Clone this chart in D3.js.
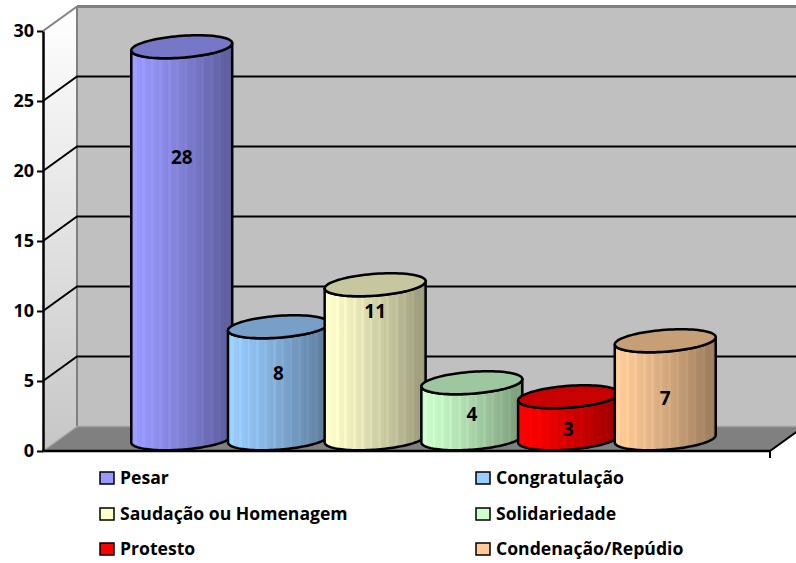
<!DOCTYPE html>
<html>
<head>
<meta charset="utf-8">
<script src="https://cdn.jsdelivr.net/npm/d3@7"></script>
<style>
  body { margin: 0; background: #fff; }
  svg { display: block; }
  text { font-family: "Open Sans", "Liberation Sans", sans-serif; font-weight: bold; fill: #000; }
</style>
</head>
<body>
<svg id="chart" width="796" height="563"></svg>
<script>
// Series of the single category, their counts and fill colours
const series = ["Pesar", "Congratulação", "Saudação ou Homenagem", "Solidariedade", "Protesto", "Condenação/Repúdio"];
const values = [28, 8, 11, 4, 3, 7];
const colors = ["#9999FF", "#99CCFF", "#FFFFCC", "#CCFFCC", "#FF0000", "#FFCC99"];
const yTicks = [0, 5, 10, 15, 20, 25, 30];
// fraction of each column's height at which its value label is placed
const labelAt = [0.72, 0.585, 0.83, 0.44, 0.23, 0.42];

const svg = d3.select("#chart");
const defs = svg.append("defs");

// Plot frame (front plane) and the oblique depth offset of the 3D box
const frameL = 43, frameR = 770, frameB = 451, frameT = 31;
const DX = 34, DY = 24.5;

const y = d3.scaleLinear().domain([0, 30]).range([frameB, frameT]);
const x = d3.scaleBand().domain(series).range([frameL, frameR])
  .paddingInner(0).paddingOuter(0.759);

// ---- walls and floor ----
const wallGrad = defs.append("linearGradient").attr("id", "sideWall")
  .attr("x1", 0).attr("y1", 0).attr("x2", 0).attr("y2", 1);
wallGrad.append("stop").attr("offset", 0).attr("stop-color", "#ffffff");
wallGrad.append("stop").attr("offset", 1).attr("stop-color", "#c6c6c6");

const line = d3.line();

// back wall
svg.append("rect")
  .attr("x", frameL + DX).attr("y", y(30) - DY)
  .attr("width", 796 - frameL - DX + 10).attr("height", y(0) - y(30))
  .attr("fill", "#c0c0c0");

// side wall
svg.append("path")
  .attr("d", line([[frameL, y(30)], [frameL + DX, y(30) - DY], [frameL + DX, y(0) - DY], [frameL, y(0)]]) + "Z")
  .attr("fill", "url(#sideWall)");

// floor
svg.append("path")
  .attr("d", line([[frameL, y(0)], [frameL + DX, y(0) - DY], [frameR + DX, y(0) - DY], [frameR, y(0)]]) + "Z")
  .attr("fill", "#808080");

// back-wall top edge and inner corner
svg.append("line")
  .attr("x1", frameL + DX).attr("x2", 800)
  .attr("y1", y(30) - DY).attr("y2", y(30) - DY)
  .attr("stroke", "#808080").attr("stroke-width", 3);
svg.append("line")
  .attr("x1", frameL + DX).attr("x2", frameL + DX)
  .attr("y1", y(30) - DY).attr("y2", y(0) - DY)
  .attr("stroke", "#808080").attr("stroke-width", 2);

// floor back edge and its left edge
svg.append("line")
  .attr("x1", frameL + DX).attr("x2", 800)
  .attr("y1", y(0) - DY).attr("y2", y(0) - DY)
  .attr("stroke", "#a0a0a0").attr("stroke-width", 1.5);
svg.append("line")
  .attr("x1", frameL).attr("y1", y(0))
  .attr("x2", frameL + DX).attr("y2", y(0) - DY)
  .attr("stroke", "#a8a8a8").attr("stroke-width", 1.5);
// floor right edge
svg.append("line")
  .attr("x1", frameR).attr("y1", y(0))
  .attr("x2", frameR + DX).attr("y2", y(0) - DY)
  .attr("stroke", "#000").attr("stroke-width", 2);

// gridlines: across the side wall and the back wall
const grid = yTicks.filter(v => v > 0 && v < 30);
svg.append("g").selectAll("path").data(grid).join("path")
  .attr("d", v => line([[frameL, y(v)], [frameL + DX, y(v) - DY], [800, y(v) - DY]]))
  .attr("fill", "none").attr("stroke", "#000").attr("stroke-width", 2);
svg.append("line")
  .attr("x1", frameL).attr("y1", y(30))
  .attr("x2", frameL + DX).attr("y2", y(30) - DY)
  .attr("stroke", "#808080").attr("stroke-width", 2);

// ---- value axis ----
const yAxis = svg.append("g").attr("transform", `translate(${frameL},0)`)
  .call(d3.axisLeft(y).tickValues(yTicks).tickSize(6).tickPadding(3).tickSizeOuter(0));
yAxis.select(".domain").attr("stroke", "#000").attr("stroke-width", 2.5);
yAxis.selectAll(".tick line").attr("stroke", "#000").attr("stroke-width", 2);
yAxis.selectAll(".tick text").attr("font-size", 18).attr("font-family", "'Open Sans', sans-serif")
  .attr("font-weight", "bold").attr("fill", "#000");

// category axis baseline
svg.append("line")
  .attr("x1", frameL - 1).attr("x2", frameR)
  .attr("y1", y(0)).attr("y2", y(0))
  .attr("stroke", "#000").attr("stroke-width", 2.5);
svg.append("line")
  .attr("x1", frameR).attr("x2", frameR)
  .attr("y1", y(0)).attr("y2", y(0) + 7)
  .attr("stroke", "#000").attr("stroke-width", 2);

// ---- cylinders ----
const halfW = x.step() * 0.522;          // on-screen half width of a column
const rho = 0.47;                        // base radius as a fraction of the box depth
const zx = DX * rho, zy = DY * rho;
const R = Math.sqrt(halfW * halfW - zx * zx);
const tR = Math.atan2(zx, R);            // rightmost silhouette point
const tL = tR + Math.PI;                 // leftmost silhouette point

function pt(cx, cy, t) {
  return [cx + R * Math.cos(t) + zx * Math.sin(t), cy - zy * Math.sin(t)];
}
function arc(cx, cy, t0, t1, n = 60) {
  return d3.range(n + 1).map(i => pt(cx, cy, t0 + (t1 - t0) * i / n));
}

const shade = (c, k) => d3.interpolateRgb(c, "#000")(k);

series.forEach((s, i) => {
  const base = colors[i];
  const light = base, dark = shade(base, 0.4);
  const cx = x(s) + x.bandwidth() / 2 + DX / 2;
  const cyTop = y(values[i]) - DY / 2;
  const cyBot = y(0) - DY / 2;

  // striped horizontal shading of the column body
  const g = defs.append("linearGradient").attr("id", "body" + i)
    .attr("gradientUnits", "userSpaceOnUse")
    .attr("x1", cx - halfW).attr("x2", cx + halfW).attr("y1", 0).attr("y2", 0);
  const N = 36;
  for (let k = 0; k < N; k++) {
    let c = d3.color(d3.interpolateRgb(light, dark)(Math.pow(k / (N - 1), 1.2)));
    if (k % 3 === 1) c = c.brighter(0.12);
    g.append("stop").attr("offset", k / N).attr("stop-color", c.formatHex());
    g.append("stop").attr("offset", (k + 1) / N).attr("stop-color", c.formatHex());
  }

  const body = [pt(cx, cyTop, tL)]
    .concat(arc(cx, cyBot, tL, tR + 2 * Math.PI))
    .concat(arc(cx, cyTop, tR + 2 * Math.PI, tL));

  const cyl = svg.append("g");
  cyl.append("path").attr("d", line(body) + "Z")
    .attr("fill", `url(#body${i})`)
    .attr("stroke", "#000").attr("stroke-width", 2.5).attr("stroke-linejoin", "round");

  cyl.append("path").attr("d", line(arc(cx, cyTop, 0, 2 * Math.PI, 90)) + "Z")
    .attr("fill", shade(base, 0.22))
    .attr("stroke", "#000").attr("stroke-width", 2.5);

  cyl.append("text")
    .attr("x", cx)
    .attr("y", y(values[i] * labelAt[i]) - DY / 2)
    .attr("text-anchor", "middle").attr("dominant-baseline", "central")
    .attr("font-size", 19)
    .text(values[i]);
});

// ---- legend ----
const legCols = [100, 476];
const legRows = [484, 520, 555];
const legend = svg.append("g").selectAll("g").data(series).join("g")
  .attr("transform", (d, i) => `translate(${legCols[i % 2]},${legRows[Math.floor(i / 2)]})`);
legend.append("rect")
  .attr("x", 0).attr("y", -12).attr("width", 14).attr("height", 12)
  .attr("fill", (d, i) => colors[i]).attr("stroke", "#000").attr("stroke-width", 1.5);
legend.append("text")
  .attr("x", 20).attr("y", 0)
  .attr("font-size", 17.6)
  .text(d => d);
</script>
</body>
</html>
